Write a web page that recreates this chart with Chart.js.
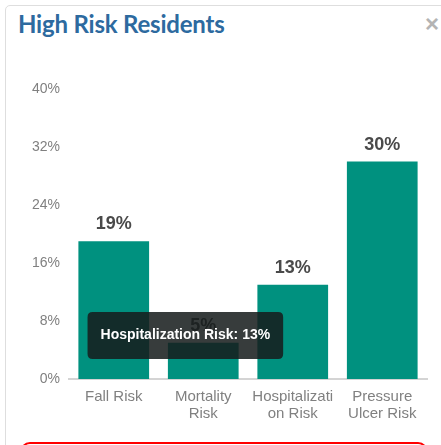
<!DOCTYPE html>
<html>
<head>
<meta charset="utf-8">
<script src="https://cdn.jsdelivr.net/npm/chart.js@4.4.0/dist/chart.umd.min.js"></script>
<style>
  html, body { margin: 0; padding: 0; background: #fff; }
  body { width: 441px; height: 445px; position: relative; overflow: hidden; }
  .card {
    position: absolute; left: 5px; top: 5px; width: 445px; height: 460px;
    border: 1px solid #dedede; border-radius: 5px; box-sizing: border-box;
  }
  .title {
    position: absolute; left: 18px; top: 9px; margin: 0;
    font-family: Lato, sans-serif; font-weight: 700; font-size: 24px;
    color: #2d6a9f; letter-spacing: -0.2px;
  }
  .close {
    position: absolute; left: 425px; top: 10px;
    font-family: Arial, sans-serif; font-weight: bold; font-size: 24px; color: #b4b4b4;
  }
  .alert {
    position: absolute; left: 20px; top: 442px; width: 408px; height: 40px;
    border: 2px solid #ff0000; border-radius: 10px; box-sizing: border-box;
  }
  #mycanvas { position: absolute; left: 0; top: 0; }
</style>
</head>
<body>
<div class="card"></div>
<h2 class="title">High Risk Residents</h2>
<div class="close">&#215;</div>
<div class="alert"></div>
<canvas id="mycanvas" width="441" height="445"></canvas>
<script>
// chart data
var categories = ['Fall Risk', ['Mortality', 'Risk'], ['Hospitalizati', 'on Risk'], ['Pressure', 'Ulcer Risk']];
var riskNames = ['Fall Risk', 'Mortality Risk', 'Hospitalization Risk', 'Pressure Ulcer Risk'];
var riskValues = [19, 5, 13, 30];
var yMax = 40;
var yStep = 8;
var hoveredIndex = 2; // the tooltip that is showing

// tooltip is placed where the mouse was
Chart.Tooltip.positioners.mouseSpot = function(elements, eventPosition) {
  return { x: eventPosition.x, y: eventPosition.y };
};

// percent labels above bars
var barLabels = {
  id: 'barLabels',
  afterDatasetsDraw: function(chart) {
    var ctx = chart.ctx;
    var meta = chart.getDatasetMeta(0);
    ctx.save();
    ctx.font = 'bold 18px Arial, sans-serif';
    ctx.fillStyle = '#4a4a4a';
    ctx.textAlign = 'center';
    ctx.textBaseline = 'alphabetic';
    meta.data.forEach(function(bar, i) {
      ctx.fillText(riskValues[i] + '%', bar.x, bar.y - 12);
    });
    ctx.restore();
  }
};

var ctx = document.getElementById('mycanvas');

var barGraph = new Chart(ctx, {
  type: 'bar',
  data: {
    labels: categories,
    datasets: [{
      label: 'High Risk Residents',
      data: riskValues,
      backgroundColor: '#00917f',
      borderWidth: 0,
      categoryPercentage: 1.0,
      barPercentage: 0.79
    }]
  },
  plugins: [barLabels],
  options: {
    responsive: false,
    animation: false,
    events: [],
    layout: { padding: { left: 0, right: 14, top: 89, bottom: 0 } },
    plugins: {
      legend: { display: false },
      title: { display: false },
      tooltip: {
        enabled: true,
        position: 'mouseSpot',
        xAlign: 'center',
        yAlign: 'center',
        caretSize: 0,
        caretPadding: 0,
        displayColors: false,
        backgroundColor: 'rgba(22, 28, 28, 0.86)',
        cornerRadius: 5,
        padding: { x: 13, y: 15 },
        bodyFont: { family: 'Arial, sans-serif', size: 14, weight: 'bold' },
        bodyColor: '#ffffff',
        callbacks: {
          title: function() { return ''; },
          label: function(item) { return riskNames[item.dataIndex] + ': ' + riskValues[item.dataIndex] + '%'; }
        }
      }
    },
    scales: {
      x: {
        grid: { display: false, drawTicks: false },
        border: { display: true, color: '#d4d4d4', width: 2 },
        ticks: {
          color: '#808080',
          padding: 10,
          maxRotation: 0,
          autoSkip: false,
          font: { family: 'Arial, sans-serif', size: 15, lineHeight: 1.1 }
        },
        afterFit: function(scale) { scale.height = 445 - 379; }
      },
      y: {
        min: 0,
        max: yMax,
        grid: { display: false, drawTicks: false },
        border: { display: false },
        ticks: {
          stepSize: yStep,
          color: '#808080',
          padding: 9,
          font: { family: 'Arial, sans-serif', size: 14 },
          callback: function(v) { return v + '%'; }
        },
        afterFit: function(scale) { scale.width = 69; }
      }
    }
  }
});

// show the hover tooltip as in the screenshot
var xs = barGraph.scales.x;
var ys = barGraph.scales.y;
barGraph.tooltip.setActiveElements(
  [{ datasetIndex: 0, index: hoveredIndex }],
  { x: xs.getPixelForValue(0.8), y: ys.getPixelForValue(6) }
);
barGraph.update();
</script>
</body>
</html>
